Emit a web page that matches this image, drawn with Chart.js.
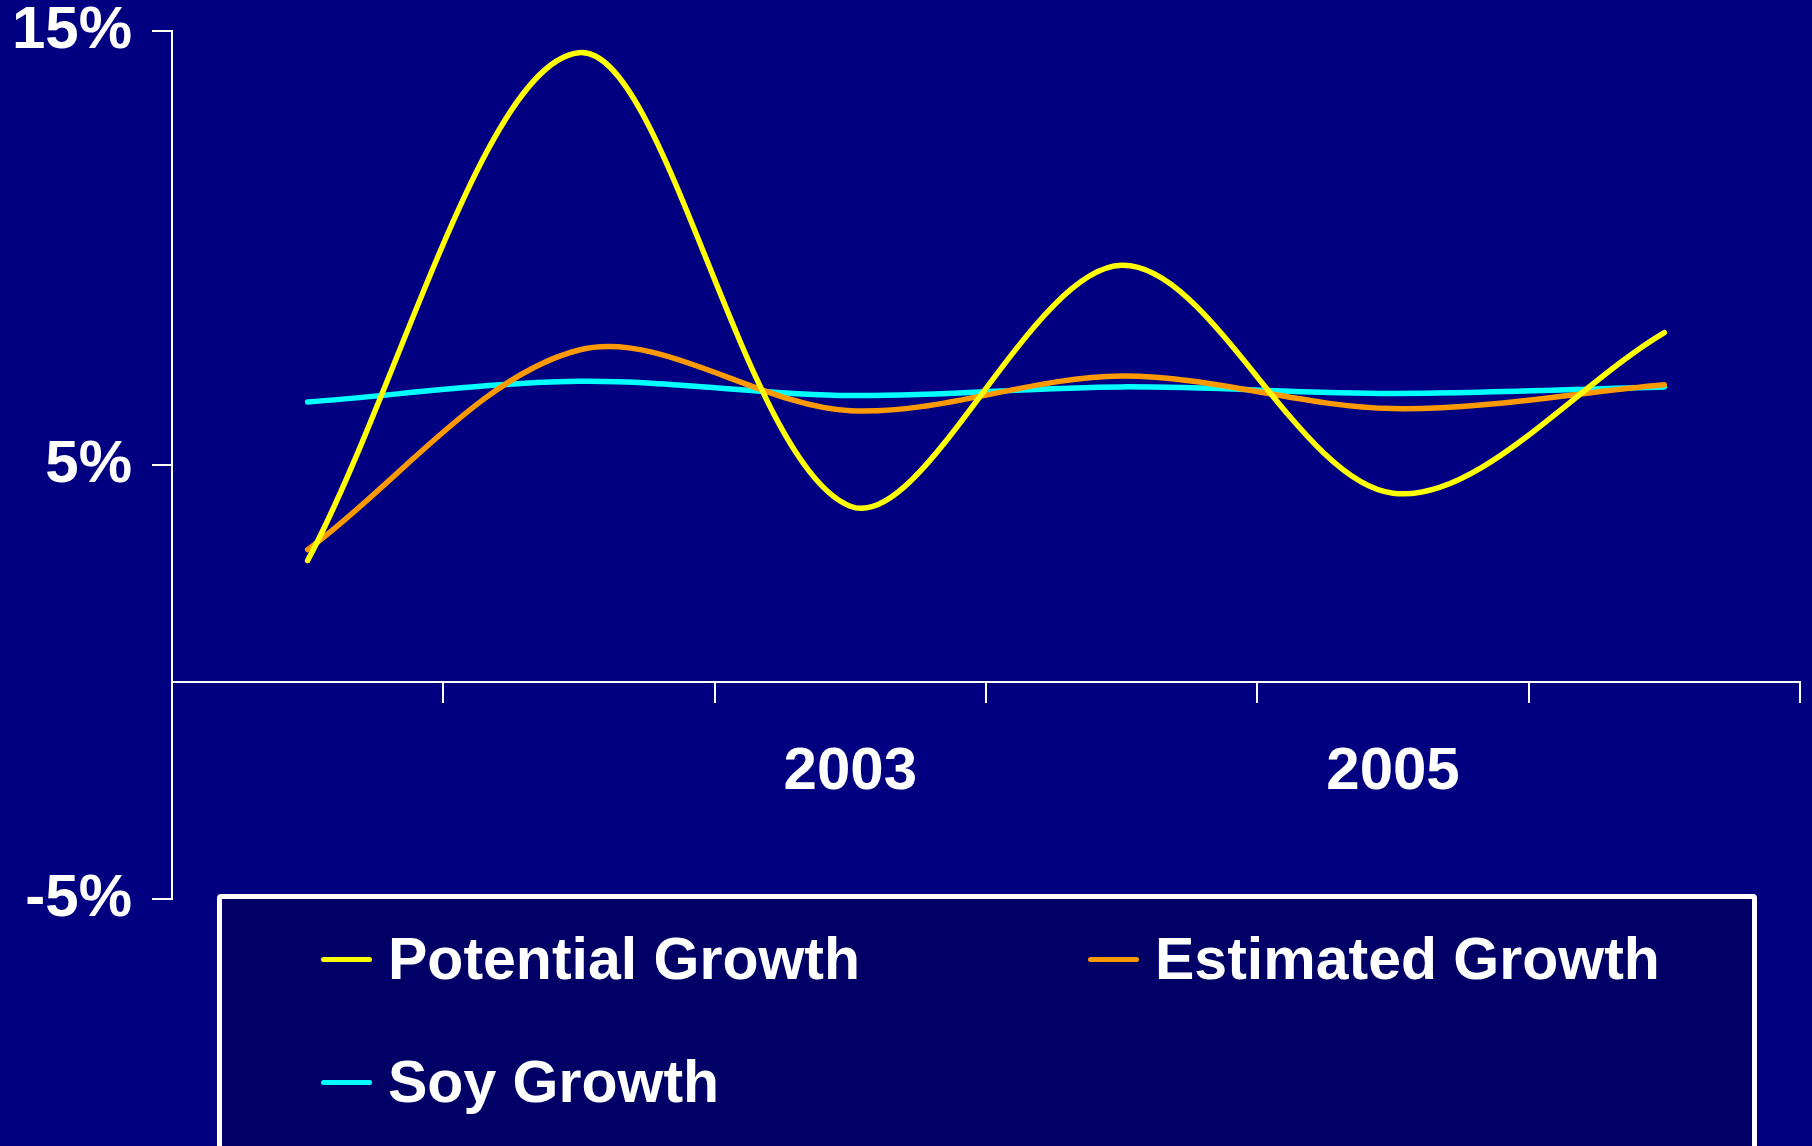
<!DOCTYPE html>
<html>
<head>
<meta charset="utf-8">
<script src="https://cdn.jsdelivr.net/npm/chart.js@4.4.1/dist/chart.umd.min.js"></script>
<style>
  html, body { margin: 0; padding: 0; background: #000080; }
  #wrap { position: relative; width: 1812px; height: 1146px; background: #000080; overflow: hidden; }
  #c { position: absolute; left: 0; top: 0; }
  #legend {
    position: absolute; left: 217px; top: 894px; width: 1540px; height: 300px;
    box-sizing: border-box; border: 5px solid #ffffff; border-radius: 4px;
    background: #000066;
  }
  .item {
    position: absolute; display: flex; align-items: center; height: 70px;
    font-family: "Liberation Sans", Arial, sans-serif; font-weight: bold; font-size: 59px;
    color: #ffffff; white-space: nowrap;
  }
  .swatch { width: 51px; height: 5px; border-radius: 3px; margin-right: 16px; }
</style>
</head>
<body>
<div id="wrap">
  <canvas id="c" width="1812" height="1146"></canvas>
  <div id="legend"></div>
</div>
<script>
// ---- data ----
const categories = ['2001', '2002', '2003', '2004', '2005', '2006'];
const xTickLabels = ['', '', '2003', '', '2005', ''];
const yTicks = [-5, 5, 15];
const seriesNames = ['Potential Growth', 'Estimated Growth', 'Soy Growth'];
const potentialGrowth = [2.8, 14.5, 4.05, 9.6, 4.35, 8.05];
const estimatedGrowth = [3.05, 7.65, 6.25, 7.05, 6.3, 6.85];
const soyGrowth = [6.45, 6.93, 6.6, 6.8, 6.65, 6.8];
const seriesColors = ['#FFFF00', '#FF9900', '#00FFFF'];

const seriesValues = [potentialGrowth, estimatedGrowth, soyGrowth];
const fontFamily = '"Liberation Sans", Arial, sans-serif';

const datasets = seriesNames.map((name, i) => ({
  label: name,
  data: seriesValues[i],
  borderColor: seriesColors[i],
  backgroundColor: seriesColors[i],
  borderWidth: 5.5,
  tension: 0.33,
  pointRadius: 0,
  pointHoverRadius: 0,
  borderCapStyle: 'round',
  borderJoinStyle: 'round',
  fill: false
}));

const chart = new Chart(document.getElementById('c'), {
  type: 'line',
  data: { labels: categories, datasets: datasets },
  options: {
    responsive: false,
    animation: false,
    devicePixelRatio: 1,
    layout: { padding: { top: 31, right: 12, bottom: 247, left: 0 } },
    plugins: { legend: { display: false }, tooltip: { enabled: false } },
    scales: {
      y: {
        min: yTicks[0],
        max: yTicks[yTicks.length - 1],
        afterBuildTicks: (scale) => { scale.ticks = yTicks.map(v => ({ value: v })); },
        afterFit: (scale) => { scale.width = 172; scale.paddingTop = 0; scale.paddingBottom = 0; },
        border: { display: true, color: '#ffffff', width: 2 },
        grid: { display: true, drawOnChartArea: false, drawTicks: true, tickLength: 20, color: '#ffffff', lineWidth: 2 },
        ticks: {
          padding: 20,
          color: '#ffffff',
          font: { family: fontFamily, weight: 'bold', size: 60, lineHeight: 1.0 },
          callback: (v) => v + '%'
        }
      },
      x: {
        position: { y: 0 },
        offset: true,
        border: { display: true, color: '#ffffff', width: 2 },
        grid: { display: true, offset: true, drawOnChartArea: false, drawTicks: true, tickLength: 20, color: '#ffffff', lineWidth: 2 },
        ticks: {
          padding: 34,
          autoSkip: false,
          maxRotation: 0,
          color: '#ffffff',
          font: { family: fontFamily, weight: 'bold', size: 60, lineHeight: 1.2 },
          callback: (v, idx) => xTickLabels[idx]
        }
      }
    }
  }
});

// ---- HTML legend built from the datasets ----
const legend = document.getElementById('legend');
const cols = 2, colStart = 99, colStep = 767, rowStart = 25, rowStep = 123;
chart.data.datasets.forEach((ds, i) => {
  const item = document.createElement('div');
  item.className = 'item';
  item.style.left = (colStart + (i % cols) * colStep) + 'px';
  item.style.top = (rowStart + Math.floor(i / cols) * rowStep) + 'px';
  const sw = document.createElement('span');
  sw.className = 'swatch';
  sw.style.background = ds.borderColor;
  const tx = document.createElement('span');
  tx.textContent = ds.label;
  item.appendChild(sw);
  item.appendChild(tx);
  legend.appendChild(item);
});
</script>
</body>
</html>
